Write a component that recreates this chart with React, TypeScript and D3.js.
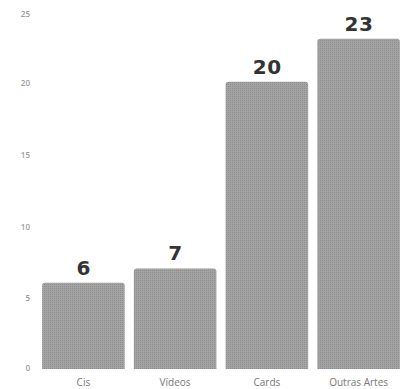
import React from "react";
import * as d3 from "d3";

const categories = ["Cis", "Vídeos", "Cards", "Outras Artes"];
const values = [6, 7, 20, 23];
const yTicks = [0, 5, 10, 15, 20, 25];

const W = 404;
const H = 389;

export default function App() {
  const x = d3.scaleBand<string>().domain(categories).range([37.5, 404.5]).paddingInner(0.1).paddingOuter(0.05);
  const y = d3.scaleLinear().domain([0, 25]).range([369, 10]);
  const r = 3;
  const barPath = (xs: number, w: number, yt: number, yb: number) =>
    `M${xs},${yb}V${yt + r}Q${xs},${yt} ${xs + r},${yt}H${xs + w - r}Q${xs + w},${yt} ${xs + w},${yt + r}V${yb}Z`;
  return (
    <svg width={W} height={H} style={{ position: "absolute", left: 0, top: 0, background: "#fff" }}>
      <defs>
        <pattern id="dots" width="2" height="2" patternUnits="userSpaceOnUse">
          <rect width="2" height="2" fill="#a3a3a3" />
          <rect width="1" height="1" fill="#8e8e8e" />
        </pattern>
      </defs>
      {yTicks.map((t) => (
        <text key={t} x={30} y={y(t) + 2 + (t === 25 ? 3 : 0) - (t === 0 ? 2 : 0)} textAnchor="end" dominantBaseline="middle"
          fontFamily="'Open Sans', sans-serif" fontWeight={600} fontSize={8} fill="#999">{t}</text>
      ))}
      {categories.map((c, i) => {
        const xs = x(c)!;
        const w = x.bandwidth();
        return (
          <g key={c}>
            <path d={barPath(xs, w, y(values[i]), y(0))} fill="url(#dots)" />
            <text x={xs + w / 2 + 0.3} y={y(values[i]) - 8} textAnchor="middle"
              fontFamily="'DejaVu Sans', sans-serif" fontWeight={700} fontSize={20} letterSpacing={0.6} fill="#333">{values[i]}</text>
            <text x={xs + w / 2} y={386} textAnchor="middle"
              fontFamily="'Open Sans', sans-serif" fontSize={10} fill="#777">{c}</text>
          </g>
        );
      })}
    </svg>
  );
}
